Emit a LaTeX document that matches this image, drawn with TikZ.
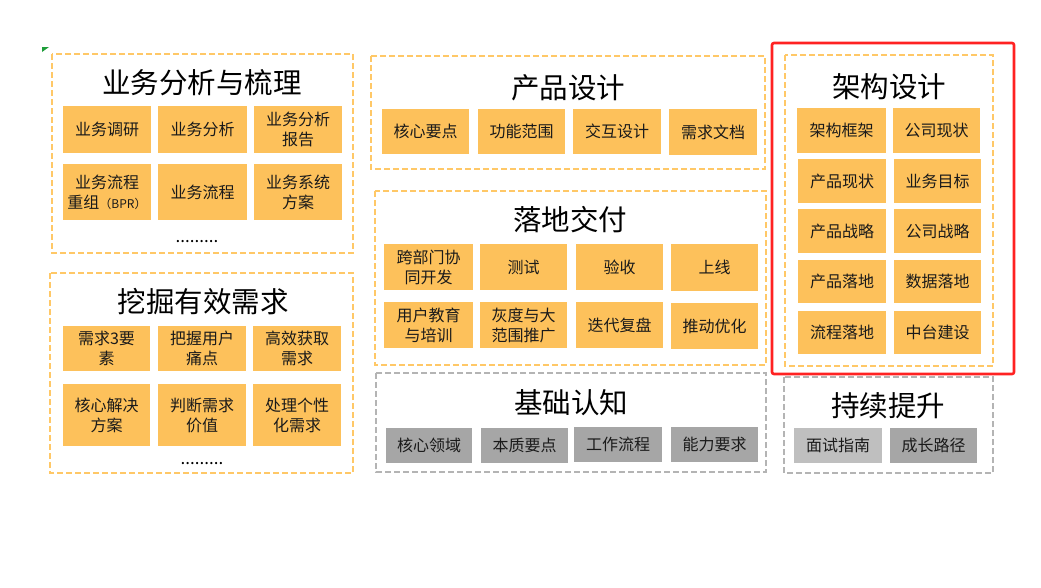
\documentclass[tikz,border=0pt]{standalone}
\usepackage{fontspec}
\setmainfont{Noto Sans CJK SC}
\newfontfamily\cjk{Noto Sans CJK SC}
\definecolor{cellor}{HTML}{FDC15B}
\definecolor{dashor}{HTML}{FFC867}
\definecolor{dashgr}{HTML}{B4B4B4}
\definecolor{cellgr}{HTML}{A6A6A6}
\definecolor{celllg}{HTML}{BFBFBF}
\definecolor{redline}{HTML}{FF2222}
\definecolor{greenmk}{HTML}{1E9E3A}
\definecolor{txt}{HTML}{1A1A1A}
\tikzset{
  grpor/.style={draw=dashor, line width=1.2pt, dash pattern=on 6pt off 3pt},
  grpgr/.style={draw=dashgr, line width=1.2pt, dash pattern=on 6pt off 3pt},
  celltxt/.style={inner sep=0pt, outer sep=0pt, align=center, text=txt,
    font=\cjk\fontsize{16}{20}\selectfont},
  cellst/.style={celltxt, fill=cellor},
  cellgst/.style={celltxt, fill=cellgr},
  celllgst/.style={celltxt, fill=celllg},
  titlest/.style={inner sep=0pt, text=black, font=\cjk\fontsize{28.5}{32}\selectfont},
  dotst/.style={inner sep=0pt, text=black, anchor=base, font=\cjk\fontsize{17}{18}\selectfont}
}
\newcommand\cellbox[7]{%
  \node[#1, minimum width={(#5-#3)*1pt}, minimum height={(#6-#4)*1pt}]
    (#2) at ({(#3+#5)/2},{(#4+#6)/2}) {#7};}
\begin{document}
\begin{tikzpicture}[x=1pt,y=-1pt]
\useasboundingbox (0,0) rectangle (1041,587);
\fill[white] (0,0) rectangle (1041,587);
% green marker
\fill[greenmk] (42,47) -- (49,47) -- (42,52) -- cycle;

% ---------- 业务分析与梳理
\draw[grpor] (52,54) rectangle (353,253);
\node[titlest] (t1) at (202,83) {业务分析与梳理};
\cellbox{cellst}{a1}{63}{106}{151}{153}{业务调研}
\cellbox{cellst}{a2}{158}{106}{247}{153}{业务分析}
\cellbox{cellst}{a3}{254}{106}{342}{153}{业务分析\\报告}
\cellbox{cellst}{a4}{63}{164}{151}{220}{业务流程\\重组{\fontsize{12}{20}\selectfont （BPR）}}
\cellbox{cellst}{a5}{158}{164}{247}{220}{业务流程}
\cellbox{cellst}{a6}{254}{164}{342}{220}{业务系统\\方案}
\node[dotst] (d1) at (197,242) {.........};

% ---------- 挖掘有效需求
\draw[grpor] (50,273) rectangle (353,473);
\node[titlest] (t2) at (203,302) {挖掘有效需求};
\cellbox{cellst}{b1}{63}{326}{150}{371}{需求3要\\素}
\cellbox{cellst}{b2}{158}{326}{246}{371}{把握用户\\痛点}
\cellbox{cellst}{b3}{253}{326}{341}{371}{高效获取\\需求}
\cellbox{cellst}{b4}{63}{384}{150}{446}{核心解决\\方案}
\cellbox{cellst}{b5}{158}{384}{246}{446}{判断需求\\价值}
\cellbox{cellst}{b6}{253}{384}{341}{446}{处理个性\\化需求}
\node[dotst] (d2) at (202,464) {.........};

% ---------- 产品设计
\draw[grpor] (371,56) rectangle (765,169);
\node[titlest] (t3) at (568,88) {产品设计};
\cellbox{cellst}{c1}{382}{109}{469}{154}{核心要点}
\cellbox{cellst}{c2}{478}{109}{565}{154}{功能范围}
\cellbox{cellst}{c3}{573}{109}{661}{154}{交互设计}
\cellbox{cellst}{c4}{669}{109}{757}{155}{需求文档}

% ---------- 落地交付
\draw[grpor] (375,191) rectangle (766,365);
\node[titlest] (t4) at (570,220) {落地交付};
\cellbox{cellst}{e1}{384}{244}{473}{290}{跨部门协\\同开发}
\cellbox{cellst}{e2}{480}{244}{567}{290}{测试}
\cellbox{cellst}{e3}{576}{244}{663}{290}{验收}
\cellbox{cellst}{e4}{671}{244}{758}{291}{上线}
\cellbox{cellst}{e5}{384}{302}{473}{348}{用户教育\\与培训}
\cellbox{cellst}{e6}{480}{302}{567}{348}{灰度与大\\范围推广}
\cellbox{cellst}{e7}{576}{302}{663}{348}{迭代复盘}
\cellbox{cellst}{e8}{671}{303}{758}{349}{推动优化}

% ---------- 基础认知
\draw[grpgr] (376,373) rectangle (766,472);
\node[titlest] (t5) at (571,403) {基础认知};
\cellbox{cellgst}{g1}{386}{428}{472}{463}{核心领域}
\cellbox{cellgst}{g2}{481}{428}{568}{463}{本质要点}
\cellbox{cellgst}{g3}{574}{427}{662}{462}{工作流程}
\cellbox{cellgst}{g4}{671}{427}{758}{462}{能力要求}

% ---------- 持续提升
\draw[grpgr] (784,377) rectangle (993,473);
\node[titlest] (t7) at (888,406) {持续提升};
\cellbox{celllgst}{h1}{794}{428}{882}{463}{面试指南}
\cellbox{cellgst}{h2}{890}{428}{977}{463}{成长路径}

% ---------- 架构设计
\draw[grpor] (785,55) rectangle (993,366);
\node[titlest] (t6) at (889,87) {架构设计};
\cellbox{cellst}{f1}{797}{108}{886}{153}{架构框架}
\cellbox{cellst}{f2}{893}{108}{980}{153}{公司现状}
\cellbox{cellst}{f3}{798}{159}{886}{203}{产品现状}
\cellbox{cellst}{f4}{894}{159}{981}{203}{业务目标}
\cellbox{cellst}{f5}{798}{209}{886}{253}{产品战略}
\cellbox{cellst}{f6}{894}{209}{981}{253}{公司战略}
\cellbox{cellst}{f7}{798}{260}{886}{303}{产品落地}
\cellbox{cellst}{f8}{894}{260}{981}{303}{数据落地}
\cellbox{cellst}{f9}{798}{311}{886}{354}{流程落地}
\cellbox{cellst}{f10}{894}{311}{981}{354}{中台建设}
\draw[redline, line width=2.6pt, rounded corners=2pt] (772,43) rectangle (1014,374);
\end{tikzpicture}
\end{document}
